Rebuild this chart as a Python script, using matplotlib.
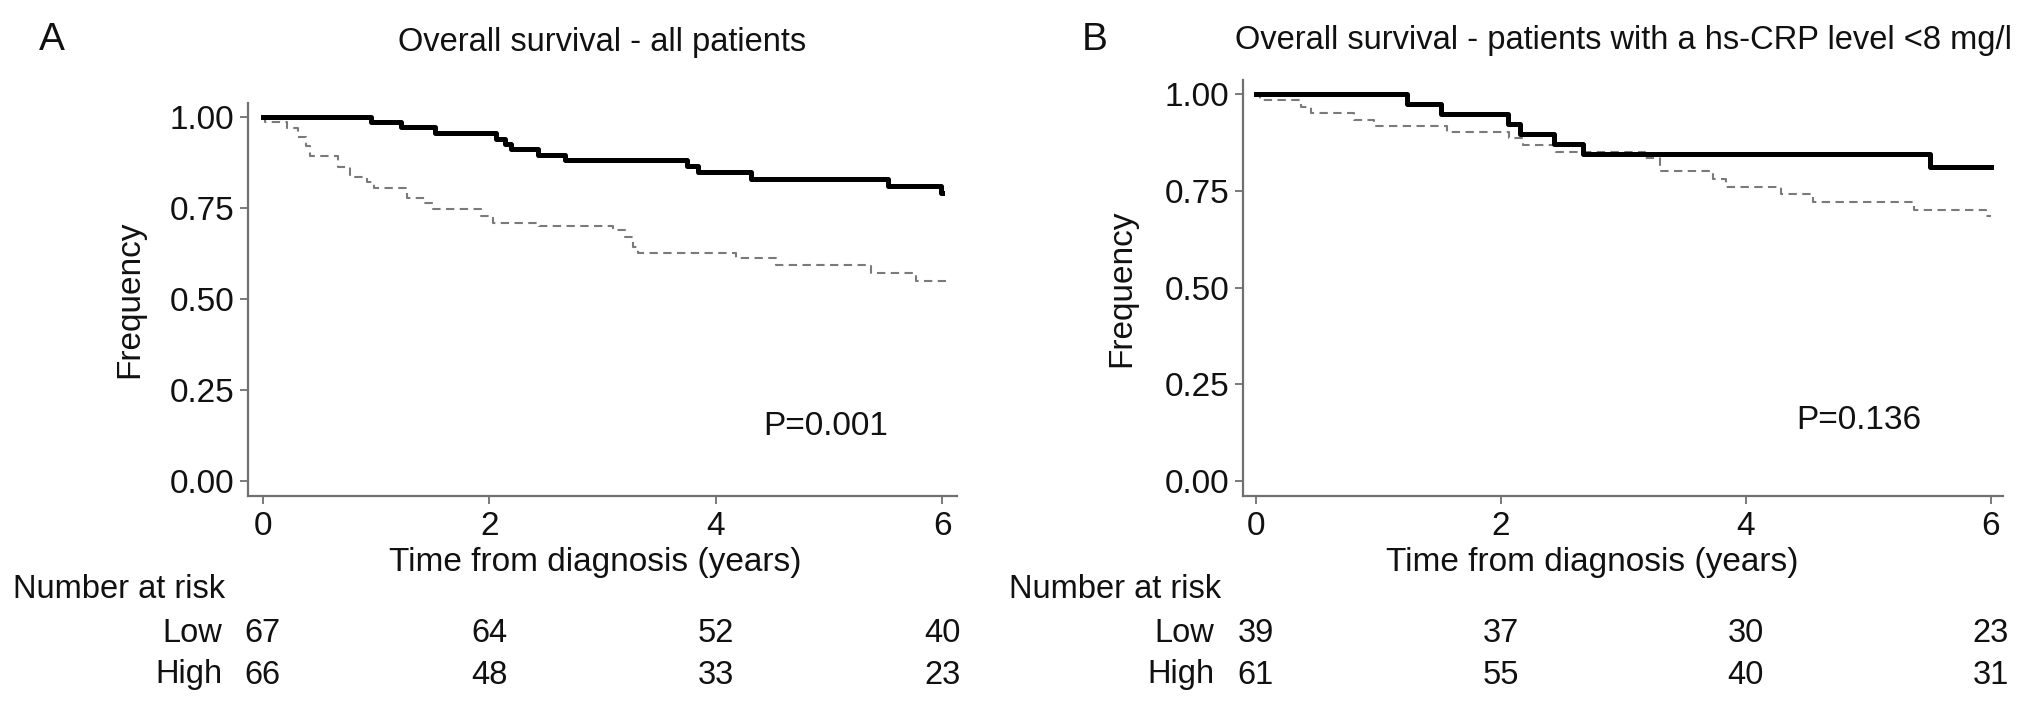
import matplotlib
matplotlib.use("Agg")
import matplotlib.pyplot as plt
import matplotlib.transforms as mtransforms

plt.rcParams["font.family"] = ["Liberation Sans", "DejaVu Sans"]

# Panel A: all patients
a_low_t = [0, 0.96, 1.22, 1.52, 2.06, 2.14, 2.19, 2.43, 2.67, 3.75, 3.84, 4.31, 5.52, 5.99, 6.0]
a_low_s = [1.0, 0.985, 0.971, 0.957, 0.940, 0.926, 0.911, 0.896, 0.882, 0.864, 0.848, 0.830, 0.811, 0.792, 0.792]
a_high_t = [0, 0.02, 0.21, 0.31, 0.38, 0.42, 0.665, 0.77, 0.92, 0.98, 1.27, 1.43, 1.50, 1.93, 2.03,
            2.44, 3.09, 3.20, 3.27, 3.31, 4.18, 4.53, 5.37, 5.77, 6.03]
a_high_s = [1.0, 0.985, 0.970, 0.946, 0.920, 0.893, 0.863, 0.836, 0.820, 0.804, 0.777, 0.763, 0.748, 0.728, 0.708,
            0.699, 0.690, 0.671, 0.644, 0.627, 0.612, 0.592, 0.571, 0.548, 0.548]

# Panel B: hs-CRP < 8 mg/l
b_low_t = [0, 1.23, 1.51, 2.06, 2.16, 2.43, 2.67, 5.50, 6.0]
b_low_s = [1.0, 0.974, 0.949, 0.923, 0.897, 0.872, 0.846, 0.811, 0.811]
b_high_t = [0, 0.03, 0.37, 0.45, 0.80, 0.96, 1.56, 2.07, 2.18, 2.45, 3.18, 3.30, 3.73, 3.84, 4.29, 4.55, 5.37, 5.96, 6.0]
b_high_s = [1.0, 0.984, 0.967, 0.951, 0.934, 0.918, 0.902, 0.885, 0.869, 0.851, 0.834, 0.802, 0.781, 0.761,
            0.742, 0.721, 0.701, 0.686, 0.686]

risk_times = [0, 2, 4, 6]
a_risk_low = [67, 64, 52, 40]
a_risk_high = [66, 48, 33, 23]
b_risk_low = [39, 37, 30, 23]
b_risk_high = [61, 55, 40, 31]

W, H = 2032, 706
fig = plt.figure(figsize=(W / 100, H / 100), dpi=100)
spine_col = "#707070"
txt = "#111111"
FS = 24


def fx(px):
    return px / W


def fy(py):
    return 1 - py / H


def panel(rect, xlim, ylim, low, high, risk_low, risk_high, p_text, p_pos, title, letter, letter_x, title_y,
          ylab_x, nar_x, grp_x, xlab_x):
    ax = fig.add_axes(rect)
    ax.step(high[0], high[1], where="post", color="#7a7a7a", lw=1.5, dashes=(4, 2.6))
    ax.step(low[0], low[1], where="post", color="black", lw=3.6)
    ax.set_xlim(*xlim)
    ax.set_ylim(*ylim)
    ax.set_xticks(risk_times)
    ax.set_yticks([0, 0.25, 0.5, 0.75, 1.0])
    ax.set_yticklabels(["0.00", "0.25", "0.50", "0.75", "1.00"])
    for s in ["top", "right"]:
        ax.spines[s].set_visible(False)
    for s in ["left", "bottom"]:
        ax.spines[s].set_color(spine_col)
        ax.spines[s].set_linewidth(1.6)
    ax.tick_params(axis="both", colors=spine_col, labelcolor=txt, labelsize=FS, width=1.3, length=6)
    ax.tick_params(axis="x", pad=5)
    ax.tick_params(axis="y", pad=4)
    ax.text(p_pos[0], p_pos[1], p_text, fontsize=FS, ha="center", va="center", color=txt)

    bb = ax.get_position()
    cx = (bb.x0 + bb.x1) / 2
    fig.text(fx(xlab_x), fy(563), "Time from diagnosis (years)", fontsize=FS, ha="center", va="center", color=txt)
    fig.text(cx, fy(title_y), title, fontsize=23.5, ha="center", va="center", color=txt)
    fig.text(fx(letter_x), fy(40), letter, fontsize=28, ha="left", va="center", color=txt)
    fig.text(fx(ylab_x), (bb.y0 + bb.y1) / 2, "Frequency", fontsize=FS, rotation=90,
             ha="center", va="center", color=txt)

    trans = mtransforms.blended_transform_factory(ax.transData, fig.transFigure)
    fig.text(fx(nar_x), fy(590), "Number at risk", fontsize=23.5, ha="left", va="center", color=txt)
    fig.text(fx(grp_x), fy(633), "Low", fontsize=23.5, ha="right", va="center", color=txt)
    fig.text(fx(grp_x), fy(675), "High", fontsize=23.5, ha="right", va="center", color=txt)
    for t, nl, nh in zip(risk_times, risk_low, risk_high):
        ax.text(t, fy(633), str(nl), transform=trans, fontsize=23.5, ha="center", va="center", color=txt)
        ax.text(t, fy(675), str(nh), transform=trans, fontsize=23.5, ha="center", va="center", color=txt)
    return ax


# panel A geometry (pixels): spine x=248, right=957, bottom=496, top=103
panel([fx(248), fy(496), fx(957 - 248), (496 - 103) / H], (-0.13, 6.13), (-0.041, 1.038),
      (a_low_t, a_low_s), (a_high_t, a_high_s), a_risk_low, a_risk_high,
      "P=0.001", (4.97, 0.15), "Overall survival - all patients", "A", 39, 43, 130, 13, 222, 595)

# panel B geometry: spine x=1243, right=2003, bottom=496, top=80
panel([fx(1243), fy(496), fx(2003 - 1243), (496 - 80) / H], (-0.106, 6.1), (-0.038, 1.036),
      (b_low_t, b_low_s), (b_high_t, b_high_s), b_risk_low, b_risk_high,
      "P=0.136", (4.92, 0.157), "Overall survival - patients with a hs-CRP level <8 mg/l", "B", 1082, 40,
      1122, 1009, 1214, 1592)

fig.savefig("out.png", dpi=100, facecolor="white")
